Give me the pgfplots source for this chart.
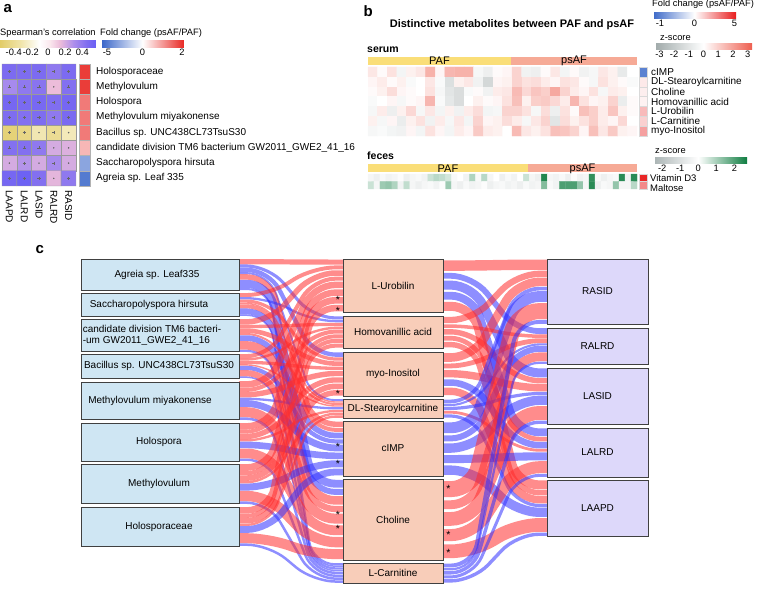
\documentclass[border=0pt]{standalone}
\usepackage{pgfplots}
\pgfplotsset{compat=1.18}
\usepackage{fontspec}
\setmainfont{Liberation Sans}
\definecolor{boxL}{RGB}{207,230,243}
\definecolor{boxM}{RGB}{248,205,185}
\definecolor{boxR}{RGB}{221,216,250}
\definecolor{fred}{RGB}{255,45,45}
\definecolor{fblue}{RGB}{50,50,255}
\definecolor{grpY}{RGB}{250,222,120}
\definecolor{grpS}{RGB}{246,170,150}
\newcommand{\lab}{\fontsize{10}{11}\selectfont}
\newcommand{\blab}{\fontsize{10}{11}\selectfont}
\newcommand{\sm}{\fontsize{9.3}{10}\selectfont}
\newcommand{\astf}{\fontsize{10.5}{10.5}\selectfont}
\pgfplotsset{
 /pgf/number format/assume math mode=true,
 colormap={spear}{rgb255(0cm)=(226,204,104) rgb255(2.4cm)=(240,228,170) rgb255(4.6cm)=(255,255,255) rgb255(5.8cm)=(250,232,238) rgb255(7cm)=(236,188,218) rgb255(8.6cm)=(172,142,236) rgb255(10.1cm)=(128,110,240) rgb255(11.2cm)=(105,95,245)},
 colormap={fcn}{rgb255(0cm)=(55,100,200) rgb255(1cm)=(255,255,255) rgb255(2cm)=(232,40,36)},
 colormap={fcbn}{rgb255(0cm)=(60,105,200) rgb255(1cm)=(255,255,255) rgb255(2cm)=(232,30,30)},
 colormap={zs}{rgb255(0cm)=(160,170,170) rgb255(3.3cm)=(255,255,255) rgb255(6.6cm)=(238,95,80)},
 colormap={zf}{rgb255(0cm)=(170,180,180) rgb255(2.45cm)=(255,255,255) rgb255(5.15cm)=(15,125,65)},
 cbar/.style={colorbar horizontal, colorbar style={scale only axis, major tick length=0pt, axis line style={draw=none}, xticklabel style={font=\sm, inner sep=1.5pt}, #1}},
 hm/.style={anchor=north west, scale only axis, y dir=reverse, hide axis, clip=false},
}
\tikzset{flowR/.style={draw=fred, draw opacity=0.55, line cap=butt, rounded corners=22pt},
 flowB/.style={draw=fblue, draw opacity=0.55, line cap=butt, rounded corners=22pt}}
\begin{document}
\begin{tikzpicture}
\useasboundingbox (0,0) rectangle (760pt,-596pt);
% ---------- panel a heatmap
\begin{axis}[hm, at={(2pt,-64pt)}, width=74pt, height=122pt,
 xmin=-0.5,xmax=4.5,ymin=-0.5,ymax=7.5,
 colormap name=spear, point meta min=-0.56, point meta max=0.56,
 cbar={at={(0pt,-31.5pt)}, anchor=north west, width=96pt, height=7pt, xtick={-0.4,-0.2,0,0.2,0.4}}]
\addplot[matrix plot, shader=faceted, faceted color=black!40, mesh/cols=5, point meta=explicit] coordinates {
(0,0)[0.47] (1,0)[0.46] (2,0)[0.47] (3,0)[0.40] (4,0)[0.47]
(0,1)[0.32] (1,1)[0.40] (2,1)[0.42] (3,1)[0.14] (4,1)[0.44]
(0,2)[0.50] (1,2)[0.48] (2,2)[0.49] (3,2)[0.45] (4,2)[0.50]
(0,3)[0.46] (1,3)[0.44] (2,3)[0.46] (3,3)[0.40] (4,3)[0.48]
(0,4)[-0.50] (1,4)[-0.45] (2,4)[-0.30] (3,4)[-0.40] (4,4)[-0.28]
(0,5)[0.44] (1,5)[0.44] (2,5)[0.40] (3,5)[0.20] (4,5)[0.18]
(0,6)[0.20] (1,6)[0.28] (2,6)[0.20] (3,6)[0.32] (4,6)[0.20]
(0,7)[0.50] (1,7)[0.54] (2,7)[0.44] (3,7)[0.16] (4,7)[0.40]};
\addplot[only marks, mark=+, mark size=1.6pt, black!60, line width=0.4pt] coordinates {
(0,0)(1,0)(2,0)(3,0)(4,0)(0,1)(1,1)(2,1)(4,1)(0,2)(1,2)(2,2)(3,2)(4,2)
(0,3)(1,3)(2,3)(3,3)(4,3)(0,4)(1,4)(3,4)(0,5)(1,5)(2,5)(1,6)(3,6)(0,7)(1,7)(2,7)(4,7)};
\addplot[only marks, mark=*, mark size=0.5pt, black!60] coordinates {
(3,1)(2,4)(4,4)(3,5)(4,5)(0,6)(2,6)(4,6)(3,7)};
\end{axis}
% ---------- panel a fold change (colour scale: -5..0 and 0..2 on the two halves)
\begin{axis}[hm, at={(79pt,-64pt)}, width=11pt, height=122pt,
 xmin=-0.5,xmax=0.5,ymin=-0.5,ymax=7.5,
 colormap name=fcn, point meta min=-1, point meta max=1,
 cbar={at={(101pt,-31.5pt)}, anchor=north west, width=83pt, height=7pt, xtick={-0.855,0,0.952}, xticklabels={-5,0,2}}]
\addplot[scatter, only marks, mark=square*, mark size=5.5pt,
 point meta={\thisrow{fc}<0 ? \thisrow{fc}/5.85 : \thisrow{fc}/2.1},
 scatter/use mapped color={draw=black!30, fill=mapped color}, every mark/.append style={yscale=1.386}]
 table[x=x, y=y, row sep=\\] {x y fc\\ 0 0 1.9\\ 0 1 1.9\\ 0 2 1.3\\ 0 3 1.3\\ 0 4 1.3\\ 0 5 0.7\\ 0 6 -3.4\\ 0 7 -5.0\\};
\end{axis}
% ---------- panel b serum heatmap
\begin{axis}[hm, at={(368pt,-67pt)}, width=269pt, height=69pt,
 xmin=-0.5,xmax=27.5,ymin=-0.5,ymax=6.5,
 colormap name=zs, point meta min=-3.3, point meta max=3.3,
 cbar={at={(655pt,-34.5pt)}, anchor=north west, width=97pt, height=6pt, xtick={-3,-2,-1,0,1,2,3}}]
\addplot[matrix plot*, mesh/cols=28, point meta=explicit] coordinates {
(0,0)[0.5] (1,0)[0.1] (2,0)[0.6] (3,0)[-0.4] (4,0)[0.3] (5,0)[0.5] (6,0)[1.6] (7,0)[0.2] (8,0)[1.5] (9,0)[1.6] (10,0)[1.6] (11,0)[-0.3] (12,0)[-0.6] (13,0)[0.1] (14,0)[0.2] (15,0)[0.9] (16,0)[-0.5] (17,0)[-0.6] (18,0)[0.1] (19,0)[0.5] (20,0)[-0.4] (21,0)[0.1] (22,0)[-0.5] (23,0)[-0.3] (24,0)[0.5] (25,0)[0.3] (26,0)[-0.8] (27,0)[0.0]
(0,1)[0.2] (1,1)[0.4] (2,1)[0.1] (3,1)[0.3] (4,1)[-0.2] (5,1)[0.0] (6,1)[0.5] (7,1)[-0.2] (8,1)[-1.2] (9,1)[0.3] (10,1)[0.5] (11,1)[-0.5] (12,1)[-1.5] (13,1)[0.2] (14,1)[0.3] (15,1)[0.9] (16,1)[0.6] (17,1)[0.7] (18,1)[0.4] (19,1)[0.2] (20,1)[0.6] (21,1)[0.5] (22,1)[0.1] (23,1)[-0.3] (24,1)[0.6] (25,1)[0.3] (26,1)[0.1] (27,1)[-0.2]
(0,2)[0.1] (1,2)[0.3] (2,2)[0.7] (3,2)[0.2] (4,2)[0.1] (5,2)[0.0] (6,2)[0.6] (7,2)[-0.3] (8,2)[-1.0] (9,2)[-1.3] (10,2)[-0.2] (11,2)[0.1] (12,2)[-0.5] (13,2)[0.4] (14,2)[0.5] (15,2)[1.4] (16,2)[0.8] (17,2)[1.2] (18,2)[1.0] (19,2)[1.8] (20,2)[0.9] (21,2)[0.4] (22,2)[0.2] (23,2)[0.6] (24,2)[-0.3] (25,2)[0.4] (26,2)[0.3] (27,2)[0.0]
(0,3)[-0.2] (1,3)[0.0] (2,3)[0.2] (3,3)[-0.3] (4,3)[0.1] (5,3)[0.2] (6,3)[1.5] (7,3)[-0.2] (8,3)[-0.9] (9,3)[-1.3] (10,3)[0.0] (11,3)[0.3] (12,3)[0.1] (13,3)[0.2] (14,3)[0.6] (15,3)[1.3] (16,3)[0.3] (17,3)[1.0] (18,3)[1.1] (19,3)[0.8] (20,3)[0.4] (21,3)[1.5] (22,3)[0.6] (23,3)[0.2] (24,3)[0.3] (25,3)[0.9] (26,3)[-0.7] (27,3)[0.1]
(0,4)[-0.3] (1,4)[0.4] (2,4)[-0.6] (3,4)[0.3] (4,4)[0.8] (5,4)[-0.3] (6,4)[0.5] (7,4)[-0.4] (8,4)[0.3] (9,4)[-0.5] (10,4)[0.4] (11,4)[0.7] (12,4)[-0.4] (13,4)[-0.3] (14,4)[0.9] (15,4)[0.9] (16,4)[0.6] (17,4)[-0.3] (18,4)[0.7] (19,4)[-0.6] (20,4)[0.6] (21,4)[0.1] (22,4)[1.3] (23,4)[1.0] (24,4)[0.4] (25,4)[1.2] (26,4)[0.3] (27,4)[0.1]
(0,5)[0.3] (1,5)[-0.3] (2,5)[0.2] (3,5)[-0.7] (4,5)[0.3] (5,5)[0.6] (6,5)[-0.5] (7,5)[0.4] (8,5)[-0.3] (9,5)[0.5] (10,5)[-0.4] (11,5)[0.9] (12,5)[0.2] (13,5)[0.3] (14,5)[0.7] (15,5)[0.4] (16,5)[-0.3] (17,5)[0.5] (18,5)[0.9] (19,5)[-1.0] (20,5)[0.7] (21,5)[0.3] (22,5)[0.6] (23,5)[1.0] (24,5)[0.4] (25,5)[0.2] (26,5)[0.8] (27,5)[0.0]
(0,6)[-0.3] (1,6)[-0.2] (2,6)[-0.4] (3,6)[-0.5] (4,6)[0.2] (5,6)[-0.4] (6,6)[0.6] (7,6)[0.2] (8,6)[-0.4] (9,6)[0.4] (10,6)[0.2] (11,6)[1.1] (12,6)[0.4] (13,6)[0.3] (14,6)[0.0] (15,6)[1.4] (16,6)[0.5] (17,6)[0.3] (18,6)[0.6] (19,6)[1.3] (20,6)[1.2] (21,6)[0.9] (22,6)[0.2] (23,6)[1.3] (24,6)[0.5] (25,6)[1.1] (26,6)[0.3] (27,6)[0.2]};
\end{axis}
% ---------- panel b serum fold change (colour scale: -1..0 and 0..5 on the two halves)
\begin{axis}[hm, at={(639pt,-67pt)}, width=8pt, height=69pt,
 xmin=-0.5,xmax=0.5,ymin=-0.5,ymax=6.5,
 colormap name=fcbn, point meta min=-1, point meta max=1,
 cbar={at={(653pt,-3.5pt)}, anchor=north west, width=83pt, height=6pt, xtick={-0.833,0,0.962}, xticklabels={-1,0,5}}]
\addplot[scatter, only marks, mark=square*, mark size=4pt,
 point meta={\thisrow{fc}<0 ? \thisrow{fc}/1.2 : \thisrow{fc}/5.2},
 scatter/use mapped color={draw=black!15, fill=mapped color}, every mark/.append style={yscale=1.23}]
 table[x=x, y=y, row sep=\\] {x y fc\\ 0 0 -1.0\\ 0 1 0.5\\ 0 2 0.4\\ 0 3 0.3\\ 0 4 1.6\\ 0 5 1.1\\ 0 6 2.2\\};
\end{axis}
% ---------- panel b feces heatmap
\begin{axis}[hm, at={(368pt,-174pt)}, width=269pt, height=15pt,
 xmin=-0.5,xmax=44.5,ymin=-0.5,ymax=1.5,
 colormap name=zf, point meta min=-2.45, point meta max=2.7,
 cbar={at={(654pt,-148.5pt)}, anchor=north west, width=93pt, height=6pt, xtick={-2,-1,0,1,2}}]
\addplot[matrix plot*, mesh/cols=45, point meta=explicit] coordinates {
(0,0)[-0.3] (1,0)[-0.5] (2,0)[-0.2] (3,0)[-0.4] (4,0)[-0.3] (5,0)[-0.1] (6,0)[-0.5] (7,0)[-0.3] (8,0)[-0.2] (9,0)[-0.4] (10,0)[0.6] (11,0)[0.8] (12,0)[0.7] (13,0)[0.5] (14,0)[-0.2] (15,0)[0.0] (16,0)[-0.4] (17,0)[0.9] (18,0)[-0.2] (19,0)[0.8] (20,0)[-0.3] (21,0)[0.0] (22,0)[-0.5] (23,0)[-0.2] (24,0)[-0.4] (25,0)[0.0] (26,0)[0.6] (27,0)[-0.3] (28,0)[-0.5] (29,0)[2.5] (30,0)[-0.3] (31,0)[-0.4] (32,0)[-0.2] (33,0)[-0.5] (34,0)[-0.1] (35,0)[-0.4] (36,0)[-0.3] (37,0)[2.3] (38,0)[-0.2] (39,0)[-0.5] (40,0)[-0.3] (41,0)[-0.2] (42,0)[2.4] (43,0)[-0.4] (44,0)[2.4]
(0,1)[0.6] (1,1)[-0.3] (2,1)[1.1] (3,1)[1.2] (4,1)[0.9] (5,1)[-0.4] (6,1)[0.7] (7,1)[-0.3] (8,1)[-0.5] (9,1)[-0.3] (10,1)[-0.2] (11,1)[-0.4] (12,1)[-0.1] (13,1)[1.1] (14,1)[-0.3] (15,1)[-0.5] (16,1)[-0.2] (17,1)[-0.4] (18,1)[-0.3] (19,1)[-0.1] (20,1)[-0.5] (21,1)[-0.3] (22,1)[-0.2] (23,1)[-0.4] (24,1)[-0.3] (25,1)[-0.5] (26,1)[-0.2] (27,1)[-0.4] (28,1)[-0.3] (29,1)[1.4] (30,1)[-0.2] (31,1)[-0.4] (32,1)[2.0] (33,1)[2.0] (34,1)[2.0] (35,1)[1.2] (36,1)[-0.3] (37,1)[2.4] (38,1)[-0.5] (39,1)[-0.2] (40,1)[-0.3] (41,1)[1.2] (42,1)[-0.3] (43,1)[-0.3] (44,1)[0.8]};
\end{axis}
% ---------- panel b feces fold change
\begin{axis}[hm, at={(639pt,-174pt)}, width=8pt, height=15pt,
 xmin=-0.5,xmax=0.5,ymin=-0.5,ymax=1.5,
 colormap name=fcbn, point meta min=-1, point meta max=1]
\addplot[scatter, only marks, mark=square*, mark size=4pt,
 point meta={\thisrow{fc}<0 ? \thisrow{fc}/1.2 : \thisrow{fc}/5.2},
 scatter/use mapped color={draw=black!15, fill=mapped color}, every mark/.append style={yscale=0.94}]
 table[x=x, y=y, row sep=\\] {x y fc\\ 0 0 5.0\\ 0 1 2.7\\};
\end{axis}
% ---------- main canvas (panel c and all texts)
\begin{axis}[at={(0pt,0pt)}, anchor=north west, scale only axis, width=760pt, height=596pt,
 xmin=0,xmax=760,ymin=0,ymax=596, y dir=reverse, hide axis, clip=false]
% group bars
\addplot[fill=grpY, draw=none] coordinates {(368,57) (511,57) (511,64.5) (368,64.5)} --cycle;
\addplot[fill=grpS, draw=none] coordinates {(511,57) (637,57) (637,64.5) (511,64.5)} --cycle;
\addplot[fill=grpY, draw=none] coordinates {(368,164) (528,164) (528,172) (368,172)} --cycle;
\addplot[fill=grpS, draw=none] coordinates {(528,164) (637,164) (637,172) (528,172)} --cycle;
% left flows: bacteria -> metabolites
\addplot[flowR, line width=5.2pt] coordinates {(239,261.7) (269,261.7) (313,262.1) (343,262.1)};
\addplot[flowB, line width=3.1pt] coordinates {(239,266.0) (269,266.0) (313,317.9) (343,317.9)};
\addplot[flowB, line width=4.3pt] coordinates {(239,269.9) (269,269.9) (313,354.6) (343,354.6)};
\addplot[flowB, line width=1.9pt] coordinates {(239,273.1) (269,273.1) (313,400.1) (343,400.1)};
\addplot[flowR, line width=5.4pt] coordinates {(239,276.9) (269,276.9) (313,424.2) (343,424.2)};
\addplot[flowB, line width=7.9pt] coordinates {(239,283.8) (269,283.8) (313,483.7) (343,483.7)};
\addplot[flowB, line width=2.0pt] coordinates {(239,289.0) (269,289.0) (313,564.2) (343,564.2)};
\addplot[flowR, line width=3.9pt] coordinates {(239,295.0) (269,295.0) (313,267.4) (343,267.4)};
\addplot[flowB, line width=2.3pt] coordinates {(239,298.2) (269,298.2) (313,321.1) (343,321.1)};
\addplot[flowR, line width=3.2pt] coordinates {(239,301.1) (269,301.1) (313,359.0) (343,359.0)};
\addplot[flowR, line width=1.4pt] coordinates {(239,303.5) (269,303.5) (313,402.0) (343,402.0)};
\addplot[flowR, line width=4.0pt] coordinates {(239,306.3) (269,306.3) (313,429.8) (343,429.8)};
\addplot[flowB, line width=5.9pt] coordinates {(239,311.4) (269,311.4) (313,491.9) (343,491.9)};
\addplot[flowB, line width=1.5pt] coordinates {(239,315.2) (269,315.2) (313,566.2) (343,566.2)};
\addplot[flowR, line width=5.5pt] coordinates {(239,321.9) (269,321.9) (313,273.0) (343,273.0)};
\addplot[flowR, line width=3.3pt] coordinates {(239,326.5) (269,326.5) (313,324.4) (343,324.4)};
\addplot[flowR, line width=4.6pt] coordinates {(239,330.6) (269,330.6) (313,363.6) (343,363.6)};
\addplot[flowR, line width=2.0pt] coordinates {(239,334.0) (269,334.0) (313,404.0) (343,404.0)};
\addplot[flowB, line width=5.7pt] coordinates {(239,338.1) (269,338.1) (313,435.5) (343,435.5)};
\addplot[flowR, line width=8.5pt] coordinates {(239,345.4) (269,345.4) (313,500.4) (343,500.4)};
\addplot[flowB, line width=2.1pt] coordinates {(239,350.9) (269,350.9) (313,568.3) (343,568.3)};
\addplot[flowR, line width=4.0pt] coordinates {(239,356.1) (269,356.1) (313,278.7) (343,278.7)};
\addplot[flowR, line width=2.4pt] coordinates {(239,359.4) (269,359.4) (313,327.9) (343,327.9)};
\addplot[flowR, line width=3.3pt] coordinates {(239,362.4) (269,362.4) (313,368.3) (343,368.3)};
\addplot[flowR, line width=1.4pt] coordinates {(239,364.9) (269,364.9) (313,406.0) (343,406.0)};
\addplot[flowB, line width=4.2pt] coordinates {(239,367.9) (269,367.9) (313,441.4) (343,441.4)};
\addplot[flowR, line width=6.2pt] coordinates {(239,373.2) (269,373.2) (313,509.0) (343,509.0)};
\addplot[flowB, line width=1.5pt] coordinates {(239,377.2) (269,377.2) (313,570.4) (343,570.4)};
\addplot[flowR, line width=6.5pt] coordinates {(239,384.4) (269,384.4) (313,284.9) (343,284.9)};
\addplot[flowR, line width=4.0pt] coordinates {(239,389.9) (269,389.9) (313,331.6) (343,331.6)};
\addplot[flowR, line width=5.4pt] coordinates {(239,394.7) (269,394.7) (313,373.5) (343,373.5)};
\addplot[flowB, line width=2.3pt] coordinates {(239,398.8) (269,398.8) (313,408.3) (343,408.3)};
\addplot[flowB, line width=6.8pt] coordinates {(239,403.5) (269,403.5) (313,447.9) (343,447.9)};
\addplot[flowR, line width=10.0pt] coordinates {(239,412.2) (269,412.2) (313,518.6) (343,518.6)};
\addplot[flowB, line width=2.5pt] coordinates {(239,418.7) (269,418.7) (313,572.8) (343,572.8)};
\addplot[flowR, line width=6.4pt] coordinates {(239,426.3) (269,426.3) (313,292.6) (343,292.6)};
\addplot[flowR, line width=3.9pt] coordinates {(239,431.6) (269,431.6) (313,336.3) (343,336.3)};
\addplot[flowR, line width=5.3pt] coordinates {(239,436.4) (269,436.4) (313,379.9) (343,379.9)};
\addplot[flowR, line width=2.3pt] coordinates {(239,440.3) (269,440.3) (313,411.0) (343,411.0)};
\addplot[flowB, line width=6.6pt] coordinates {(239,444.9) (269,444.9) (313,455.8) (343,455.8)};
\addplot[flowR, line width=9.7pt] coordinates {(239,453.4) (269,453.4) (313,530.3) (343,530.3)};
\addplot[flowB, line width=2.4pt] coordinates {(239,459.7) (269,459.7) (313,575.7) (343,575.7)};
\addplot[flowR, line width=6.7pt] coordinates {(239,467.5) (269,467.5) (313,300.3) (343,300.3)};
\addplot[flowR, line width=4.1pt] coordinates {(239,473.1) (269,473.1) (313,340.9) (343,340.9)};
\addplot[flowR, line width=5.6pt] coordinates {(239,478.1) (269,478.1) (313,386.3) (343,386.3)};
\addplot[flowR, line width=2.4pt] coordinates {(239,482.2) (269,482.2) (313,413.8) (343,413.8)};
\addplot[flowB, line width=7.0pt] coordinates {(239,487.1) (269,487.1) (313,463.8) (343,463.8)};
\addplot[flowR, line width=10.3pt] coordinates {(239,496.0) (269,496.0) (313,542.1) (343,542.1)};
\addplot[flowB, line width=2.5pt] coordinates {(239,502.7) (269,502.7) (313,578.6) (343,578.6)};
\addplot[flowR, line width=6.5pt] coordinates {(239,510.4) (269,510.4) (313,308.1) (343,308.1)};
\addplot[flowR, line width=4.0pt] coordinates {(239,515.9) (269,515.9) (313,345.7) (343,345.7)};
\addplot[flowR, line width=5.4pt] coordinates {(239,520.7) (269,520.7) (313,392.8) (343,392.8)};
\addplot[flowR, line width=2.3pt] coordinates {(239,524.8) (269,524.8) (313,416.6) (343,416.6)};
\addplot[flowB, line width=6.8pt] coordinates {(239,529.5) (269,529.5) (313,472.0) (343,472.0)};
\addplot[flowR, line width=10.0pt] coordinates {(239,538.2) (269,538.2) (313,554.1) (343,554.1)};
\addplot[flowB, line width=2.5pt] coordinates {(239,544.7) (269,544.7) (313,581.5) (343,581.5)};
% right flows: metabolites -> regions
\addplot[flowR, line width=10.4pt] coordinates {(443,265.6) (473,265.6) (517,264.7) (547,264.7)};
\addplot[flowB, line width=5.8pt] coordinates {(443,275.8) (473,275.8) (517,331.1) (547,331.1)};
\addplot[flowB, line width=9.0pt] coordinates {(443,285.1) (473,285.1) (517,372.9) (547,372.9)};
\addplot[flowB, line width=7.8pt] coordinates {(443,295.7) (473,295.7) (517,432.3) (547,432.3)};
\addplot[flowR, line width=9.0pt] coordinates {(443,306.3) (473,306.3) (517,484.9) (547,484.9)};
\addplot[flowR, line width=6.3pt] coordinates {(443,320.0) (473,320.0) (517,273.8) (547,273.8)};
\addplot[flowR, line width=3.5pt] coordinates {(443,326.1) (473,326.1) (517,336.2) (547,336.2)};
\addplot[flowR, line width=5.4pt] coordinates {(443,331.8) (473,331.8) (517,380.7) (547,380.7)};
\addplot[flowR, line width=4.7pt] coordinates {(443,338.2) (473,338.2) (517,439.1) (547,439.1)};
\addplot[flowR, line width=5.4pt] coordinates {(443,344.6) (473,344.6) (517,492.7) (547,492.7)};
\addplot[flowR, line width=8.6pt] coordinates {(443,357.5) (473,357.5) (517,281.9) (547,281.9)};
\addplot[flowR, line width=4.8pt] coordinates {(443,365.9) (473,365.9) (517,340.7) (547,340.7)};
\addplot[flowR, line width=7.4pt] coordinates {(443,373.7) (473,373.7) (517,387.7) (547,387.7)};
\addplot[flowB, line width=6.5pt] coordinates {(443,382.5) (473,382.5) (517,445.2) (547,445.2)};
\addplot[flowR, line width=7.4pt] coordinates {(443,391.3) (473,391.3) (517,499.7) (547,499.7)};
\addplot[flowB, line width=3.7pt] coordinates {(443,401.4) (473,401.4) (517,288.6) (547,288.6)};
\addplot[flowB, line width=2.1pt] coordinates {(443,405.0) (473,405.0) (517,344.4) (547,344.4)};
\addplot[flowB, line width=3.2pt] coordinates {(443,408.4) (473,408.4) (517,393.5) (547,393.5)};
\addplot[flowR, line width=2.8pt] coordinates {(443,412.2) (473,412.2) (517,450.3) (547,450.3)};
\addplot[flowB, line width=3.2pt] coordinates {(443,416.0) (473,416.0) (517,505.5) (547,505.5)};
\addplot[flowB, line width=10.8pt] coordinates {(443,427.8) (473,427.8) (517,296.5) (547,296.5)};
\addplot[flowB, line width=6.0pt] coordinates {(443,438.4) (473,438.4) (517,348.8) (547,348.8)};
\addplot[flowB, line width=9.3pt] coordinates {(443,448.1) (473,448.1) (517,400.3) (547,400.3)};
\addplot[flowB, line width=8.1pt] coordinates {(443,459.1) (473,459.1) (517,456.3) (547,456.3)};
\addplot[flowB, line width=9.3pt] coordinates {(443,470.1) (473,470.1) (517,512.3) (547,512.3)};
\addplot[flowR, line width=15.9pt] coordinates {(443,489.1) (473,489.1) (517,311.1) (547,311.1)};
\addplot[flowR, line width=8.8pt] coordinates {(443,504.7) (473,504.7) (517,356.8) (547,356.8)};
\addplot[flowR, line width=13.7pt] coordinates {(443,518.9) (473,518.9) (517,412.9) (547,412.9)};
\addplot[flowR, line width=12.0pt] coordinates {(443,535.1) (473,535.1) (517,467.2) (547,467.2)};
\addplot[flowR, line width=13.7pt] coordinates {(443,551.3) (473,551.3) (517,524.9) (547,524.9)};
\addplot[flowB, line width=3.9pt] coordinates {(443,565.5) (473,565.5) (517,321.9) (547,321.9)};
\addplot[flowB, line width=2.2pt] coordinates {(443,569.3) (473,569.3) (517,362.8) (547,362.8)};
\addplot[flowB, line width=3.4pt] coordinates {(443,572.8) (473,572.8) (517,422.2) (547,422.2)};
\addplot[flowB, line width=3.0pt] coordinates {(443,576.9) (473,576.9) (517,475.4) (547,475.4)};
\addplot[flowB, line width=3.4pt] coordinates {(443,580.9) (473,580.9) (517,534.2) (547,534.2)};
% boxes
\addplot[fill=boxL, draw=black!75, line width=0.9pt] coordinates {(81,259) (239,259) (239,290) (81,290)} --cycle;
\addplot[fill=boxL, draw=black!75, line width=0.9pt] coordinates {(81,293) (239,293) (239,316) (81,316)} --cycle;
\addplot[fill=boxL, draw=black!75, line width=0.9pt] coordinates {(81,319) (239,319) (239,351) (81,351)} --cycle;
\addplot[fill=boxL, draw=black!75, line width=0.9pt] coordinates {(81,354) (239,354) (239,378) (81,378)} --cycle;
\addplot[fill=boxL, draw=black!75, line width=0.9pt] coordinates {(81,382) (239,382) (239,419) (81,419)} --cycle;
\addplot[fill=boxL, draw=black!75, line width=0.9pt] coordinates {(81,423) (239,423) (239,461) (81,461)} --cycle;
\addplot[fill=boxL, draw=black!75, line width=0.9pt] coordinates {(81,464) (239,464) (239,503) (81,503)} --cycle;
\addplot[fill=boxL, draw=black!75, line width=0.9pt] coordinates {(81,507) (239,507) (239,546) (81,546)} --cycle;
\addplot[fill=boxM, draw=black!75, line width=0.9pt] coordinates {(343,259) (443,259) (443,312) (343,312)} --cycle;
\addplot[fill=boxM, draw=black!75, line width=0.9pt] coordinates {(343,316) (443,316) (443,348) (343,348)} --cycle;
\addplot[fill=boxM, draw=black!75, line width=0.9pt] coordinates {(343,352) (443,352) (443,396) (343,396)} --cycle;
\addplot[fill=boxM, draw=black!75, line width=0.9pt] coordinates {(343,399) (443,399) (443,418) (343,418)} --cycle;
\addplot[fill=boxM, draw=black!75, line width=0.9pt] coordinates {(343,421) (443,421) (443,476) (343,476)} --cycle;
\addplot[fill=boxM, draw=black!75, line width=0.9pt] coordinates {(343,479) (443,479) (443,560) (343,560)} --cycle;
\addplot[fill=boxM, draw=black!75, line width=0.9pt] coordinates {(343,563) (443,563) (443,583) (343,583)} --cycle;
\addplot[fill=boxR, draw=black!75, line width=0.9pt] coordinates {(547,259) (648,259) (648,324) (547,324)} --cycle;
\addplot[fill=boxR, draw=black!75, line width=0.9pt] coordinates {(547,328) (648,328) (648,364) (547,364)} --cycle;
\addplot[fill=boxR, draw=black!75, line width=0.9pt] coordinates {(547,368) (648,368) (648,424) (547,424)} --cycle;
\addplot[fill=boxR, draw=black!75, line width=0.9pt] coordinates {(547,428) (648,428) (648,477) (547,477)} --cycle;
\addplot[fill=boxR, draw=black!75, line width=0.9pt] coordinates {(547,480) (648,480) (648,536) (547,536)} --cycle;
% box labels
\node[font=\blab] at (157,275) {Agreia sp. Leaf335};
\node[font=\blab] at (149,305) {Saccharopolyspora hirsuta};
\node[font=\blab, align=left] at (152,335) {candidate division TM6 bacteri-\\-um GW2011\_GWE2\_41\_16};
\node[font=\blab] at (159,366) {Bacillus sp. UNC438CL73TsuS30};
\node[font=\blab] at (150,400.5) {Methylovulum miyakonense};
\node[font=\blab] at (159,442) {Holospora};
\node[font=\blab] at (159,484) {Methylovulum};
\node[font=\blab] at (159,526.5) {Holosporaceae};
\node[font=\blab] at (393,285.5) {L-Urobilin};
\node[font=\blab] at (393,332) {Homovanillic acid};
\node[font=\blab] at (393,374) {myo-Inositol};
\node[font=\blab] at (393,408.5) {DL-Stearoylcarnitine};
\node[font=\blab] at (393,448.5) {cIMP};
\node[font=\blab] at (393,519.5) {Choline};
\node[font=\blab] at (393,573) {L-Carnitine};
\node[font=\blab] at (597.5,291.5) {RASID};
\node[font=\blab] at (597.5,346) {RALRD};
\node[font=\blab] at (597.5,396) {LASID};
\node[font=\blab] at (597.5,452.5) {LALRD};
\node[font=\blab] at (597.5,508) {LAAPD};
% asterisks
\node[font=\astf, inner sep=0pt] at (338,300) {*};
\node[font=\astf, inner sep=0pt] at (338,311) {*};
\node[font=\astf, inner sep=0pt] at (338,394) {*};
\node[font=\astf, inner sep=0pt] at (338,447) {*};
\node[font=\astf, inner sep=0pt] at (338,464) {*};
\node[font=\astf, inner sep=0pt] at (338,515) {*};
\node[font=\astf, inner sep=0pt] at (338,529) {*};
\node[font=\astf, inner sep=0pt] at (448.5,489) {*};
\node[font=\astf, inner sep=0pt] at (448.5,535) {*};
\node[font=\astf, inner sep=0pt] at (448.5,553) {*};
% panel letters
\node[font=\bfseries\fontsize{15}{15}\selectfont, anchor=west] at (0,9) {a};
\node[font=\bfseries\fontsize{15}{15}\selectfont, anchor=west] at (360,11) {b};
\node[font=\bfseries\fontsize{15}{15}\selectfont, anchor=west] at (32,250) {c};
% panel a texts
\node[font=\sm, anchor=west, inner sep=0pt] at (0,33) {Spearman's correlation};
\node[font=\sm, anchor=west, inner sep=0pt] at (100,33) {Fold change (psAF/PAF)};
\node[font=\lab, anchor=west, inner sep=0pt] at (96,71.6) {Holosporaceae};
\node[font=\lab, anchor=west, inner sep=0pt] at (96,86.9) {Methylovulum};
\node[font=\lab, anchor=west, inner sep=0pt] at (96,102.1) {Holospora};
\node[font=\lab, anchor=west, inner sep=0pt] at (96,117.4) {Methylovulum miyakonense};
\node[font=\lab, anchor=west, inner sep=0pt] at (96,132.6) {Bacillus sp. UNC438CL73TsuS30};
\node[font=\lab, anchor=west, inner sep=0pt] at (96,147.9) {candidate division TM6 bacterium GW2011\_GWE2\_41\_16};
\node[font=\lab, anchor=west, inner sep=0pt] at (96,163.1) {Saccharopolyspora hirsuta};
\node[font=\lab, anchor=west, inner sep=0pt] at (96,178.4) {Agreia sp. Leaf 335};
\node[font=\lab, anchor=west, rotate=-90, inner sep=0pt] at (9.4,190) {LAAPD};
\node[font=\lab, anchor=west, rotate=-90, inner sep=0pt] at (24.2,190) {LALRD};
\node[font=\lab, anchor=west, rotate=-90, inner sep=0pt] at (39,190) {LASID};
\node[font=\lab, anchor=west, rotate=-90, inner sep=0pt] at (53.8,190) {RALRD};
\node[font=\lab, anchor=west, rotate=-90, inner sep=0pt] at (68.6,190) {RASID};
% panel b texts
\node[font=\bfseries\fontsize{11}{12}\selectfont] at (512,25) {Distinctive metabolites between PAF and psAF};
\node[font=\bfseries\fontsize{10.5}{11}\selectfont, anchor=west, inner sep=0pt] at (367,50) {serum};
\node[font=\bfseries\fontsize{10.5}{11}\selectfont, anchor=west, inner sep=0pt] at (367,156) {feces};
\node[font=\fontsize{11}{12}\selectfont] at (439.5,61) {PAF};
\node[font=\fontsize{11}{12}\selectfont] at (574,61) {psAF};
\node[font=\fontsize{11}{12}\selectfont] at (448,168.5) {PAF};
\node[font=\fontsize{11}{12}\selectfont] at (582.5,168.5) {psAF};
\node[font=\lab, anchor=west, inner sep=0pt] at (651,71.9) {cIMP};
\node[font=\lab, anchor=west, inner sep=0pt] at (651,81.8) {DL-Stearoylcarnitine};
\node[font=\lab, anchor=west, inner sep=0pt] at (651,91.6) {Choline};
\node[font=\lab, anchor=west, inner sep=0pt] at (651,101.5) {Homovanillic acid};
\node[font=\lab, anchor=west, inner sep=0pt] at (651,111.4) {L-Urobilin};
\node[font=\lab, anchor=west, inner sep=0pt] at (651,121.2) {L-Carnitine};
\node[font=\lab, anchor=west, inner sep=0pt] at (651,131.1) {myo-Inositol};
\node[font=\fontsize{9.5}{10}\selectfont, anchor=west, inner sep=0pt] at (650,178) {Vitamin D3};
\node[font=\fontsize{9.5}{10}\selectfont, anchor=west, inner sep=0pt] at (650,188) {Maltose};
\node[font=\sm, anchor=west, inner sep=0pt] at (652,4) {Fold change (psAF/PAF)};
\node[font=\sm, anchor=west, inner sep=0pt] at (660,38) {z-score};
\node[font=\sm, anchor=west, inner sep=0pt] at (655,151) {z-score};
\end{axis}
\end{tikzpicture}
\end{document}
